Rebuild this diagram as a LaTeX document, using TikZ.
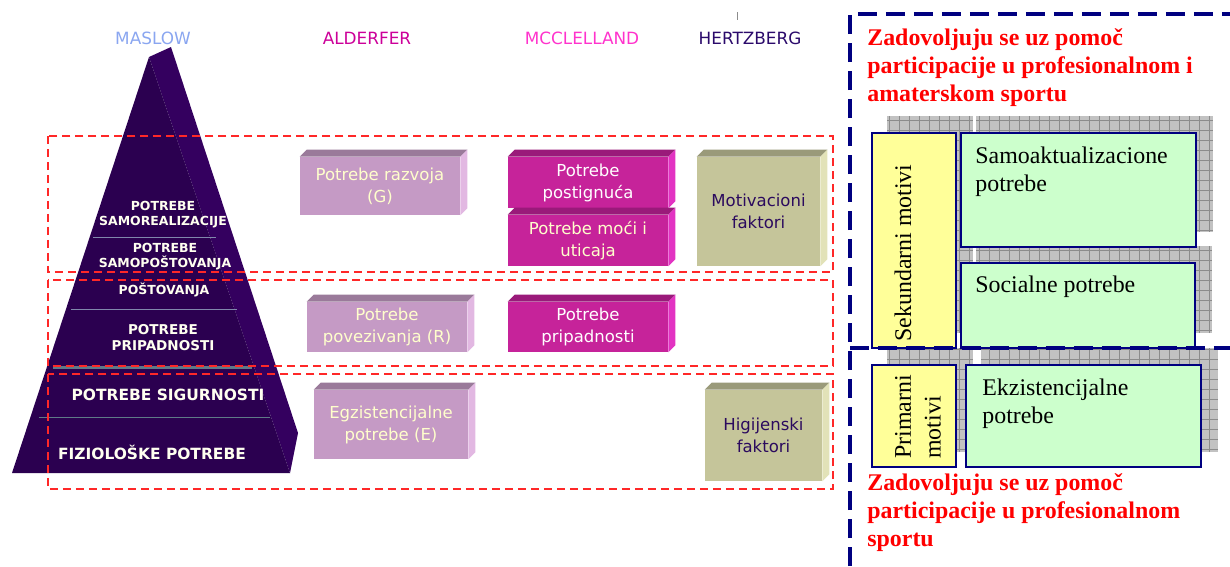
\documentclass[tikz,border=0pt]{standalone}
\usepackage{fontspec}
\setmainfont{Liberation Serif}
\newfontfamily\tahoma{DejaVu Sans}
\usetikzlibrary{backgrounds}

\definecolor{pyrfront}{HTML}{2B0050}
\definecolor{pyrside}{HTML}{34005F}
\definecolor{pyrtext}{HTML}{FFFFF0}
\definecolor{pyrgrey}{HTML}{8088AC}
\definecolor{pyrteal}{HTML}{5F7A88}
\definecolor{aldfront}{HTML}{C59AC5}
\definecolor{aldtop}{HTML}{9A7A9A}
\definecolor{aldside}{HTML}{E2B8E2}
\definecolor{aldtxt}{HTML}{FFFFCC}
\definecolor{mccfront}{HTML}{C6239A}
\definecolor{mcctop}{HTML}{9A1A7A}
\definecolor{mccside}{HTML}{E233C2}
\definecolor{herzfront}{HTML}{C5C59A}
\definecolor{herztop}{HTML}{9A9A7A}
\definecolor{herzside}{HTML}{E2E2B8}
\definecolor{herztxt}{HTML}{2B0A5E}
\definecolor{maslowc}{HTML}{8AA6F0}
\definecolor{alderc}{HTML}{CC0099}
\definecolor{mccc}{HTML}{FF33CC}
\definecolor{herzc}{HTML}{2B0A6B}
\definecolor{redf}{HTML}{FF2828}
\definecolor{navyb}{HTML}{000080}
\definecolor{yellowb}{HTML}{FFFF99}
\definecolor{greenb}{HTML}{CCFFCC}

\tikzset{
  head/.style={font=\tahoma\fontsize{9.6}{11}\selectfont},
  pyrlabel/.style={font=\tahoma\bfseries\fontsize{7.1}{8.6}\selectfont, text=pyrtext, align=center, inner sep=0},
  pyrlabelbig/.style={font=\tahoma\bfseries\fontsize{8.8}{10}\selectfont, text=pyrtext, inner sep=0},
  pyrline/.style={draw=pyrgrey, line width=0.02cm},
  redframe/.style={draw=redf, line width=0.04cm, dash pattern=on 0.16cm off 0.1cm},
  brick/.style={inner sep=0, align=center, font=\tahoma\fontsize{9.4}{12.5}\selectfont},
  alder/.style={brick, fill=aldfront, text=aldtxt},
  mcc/.style={brick, fill=mccfront, text=white},
  herz/.style={brick, fill=herzfront, text=herztxt},
  motive/.style={draw=navyb, line width=0.04cm, fill=yellowb},
  need/.style={draw=navyb, line width=0.04cm, fill=greenb},
  serif/.style={font=\fontsize{13.6}{15.4}\selectfont, inner sep=0, align=left},
  rednote/.style={font=\bfseries\fontsize{13.6}{15.9}\selectfont, text=red, inner sep=0, align=left},
  bluedash/.style={draw=navyb, line width=0.08cm, dash pattern=on 0.38cm off 0.18cm},
  shadowgrid/.style={draw=black!45, line width=0.5pt, step=0.2cm},
}

% top and side faces of a brick
\newcommand\brickfaces[3]{%
  \fill[#2] (#1.north west) -- ++(7,-7) -- ([shift={(7,-7)}]#1.north east) -- (#1.north east) -- cycle;
  \fill[#3] (#1.north east) -- ([shift={(7,-7)}]#1.north east) -- ([shift={(7,-7)}]#1.south east) -- (#1.south east) -- cycle;
}

\begin{document}
\begin{tikzpicture}[x=0.02cm,y=-0.02cm]
  \useasboundingbox (0,0) rectangle (1230,566);

  % column heads
  \node[head, text=maslowc] (maslow) at (153,38) {MASLOW};
  \node[head, text=alderc] (alderfer) at (367,38) {ALDERFER};
  \node[head, text=mccc] (mcclelland) at (582,38) {MCCLELLAND};
  \node[head, text=herzc] (hertzberg) at (750,38) {HERTZBERG};
  \draw[black!45] (737,12) -- (737,20);

  % pyramid
  \fill[pyrside] (149,57) -- (171,47) -- (298,433) -- (290,473) -- cycle;
  \fill[pyrfront] (149,57) -- (290,473) -- (12,473) -- cycle;
  \draw[pyrline] (93,237) -- (216,237);
  \draw[pyrline] (71,309) -- (237,309);
  \draw[pyrline, draw=pyrteal, line width=0.06cm] (53,367) -- (252,367);
  \draw[pyrline, draw=pyrteal] (39,417) -- (270,417);
  \node[pyrlabel] (samoreal) at (163,214.5) {POTREBE\\SAMOREALIZACIJE};
  \node[pyrlabel] (samopost) at (165,257) {POTREBE\\SAMOPOŠTOVANJA};
  \node[pyrlabel] (postov) at (164,290) {POŠTOVANJA};
  \node[pyrlabel, font=\tahoma\bfseries\fontsize{7.7}{9.6}\selectfont] (pripadn) at (163,337.5) {POTREBE\\PRIPADNOSTI};
  \node[pyrlabelbig] (sigurn) at (168,395) {POTREBE SIGURNOSTI};
  \node[pyrlabelbig] (fiziol) at (152,452) {FIZIOLOŠKE POTREBE};

  % red frames
  \draw[redframe] (48,136) rectangle (833,272);
  \draw[redframe] (48,280) rectangle (833,366);
  \draw[redframe] (48,374) rectangle (833,489);

  % bricks
  \node[alder, minimum width=3.2cm, minimum height=1.16cm] (razvoj) at (380,186) {Potrebe razvoja\\(G)};
  \node[alder, minimum width=3.2cm, minimum height=1cm] (povez) at (387,327) {Potrebe\\povezivanja (R)};
  \node[alder, minimum width=3.08cm, minimum height=1.38cm] (egzist) at (391,424.5) {Egzistencijalne\\potrebe (E)};
  \node[mcc, minimum width=3.2cm, minimum height=1.02cm] (postig) at (588,182.5) {Potrebe\\postignuća};
  \node[mcc, text=aldtxt, minimum width=3.2cm, minimum height=1.02cm] (moc) at (588,240.5) {Potrebe moći i\\uticaja};
  \node[mcc, minimum width=3.2cm, minimum height=1cm] (pripad) at (588,327) {Potrebe\\pripadnosti};
  \node[herz, minimum width=2.46cm, minimum height=2.18cm] (motiv) at (758.5,211.5) {Motivacioni\\faktori};
  \node[herz, minimum width=2.34cm, minimum height=1.82cm] (higij) at (763.5,435.5) {Higijenski\\faktori};
  \brickfaces{razvoj}{aldtop}{aldside}
  \brickfaces{povez}{aldtop}{aldside}
  \brickfaces{egzist}{aldtop}{aldside}
  \brickfaces{postig}{mcctop}{mccside}
  \brickfaces{moc}{mcctop}{mccside}
  \brickfaces{pripad}{mcctop}{mccside}
  \brickfaces{motiv}{herztop}{herzside}
  \brickfaces{higij}{herztop}{herzside}

  % motives and needs
  \node[motive, minimum width=1.68cm, minimum height=4.3cm] (sek) at (914,240.5) {};
  \node[need, minimum width=4.7cm, minimum height=2.28cm] (samo) at (1078.5,190) {};
  \node[need, minimum width=4.68cm, minimum height=1.7cm] (soc) at (1078,305.5) {};
  \node[motive, minimum width=1.68cm, minimum height=2.04cm] (prim) at (914,416) {};
  \node[need, minimum width=4.7cm, minimum height=2.04cm] (ekz) at (1083.5,416) {};
  \begin{scope}[on background layer]
    \foreach \b in {sek,samo,soc,prim,ekz}{
      \fill[black!24] ([shift={(16,-16)}]\b.south west) rectangle ([shift={(16,-16)}]\b.north east);
      \draw[shadowgrid] ([shift={(16,-16)}]\b.south west) grid ([shift={(16,-16)}]\b.north east);
    }
  \end{scope}
  \node[serif, anchor=north west] (samotxt) at ([xshift=0.3cm,yshift=-0.3cm]samo.north west) {Samoaktualizacione\\potrebe};
  \node[serif, anchor=north west] (soctxt) at ([xshift=0.3cm,yshift=-0.28cm]soc.north west) {Socialne potrebe};
  \node[serif, anchor=north west] (ekztxt) at ([xshift=0.34cm,yshift=-0.3cm]ekz.north west) {Ekzistencijalne\\potrebe};
  \node[serif, rotate=90, anchor=west] (sektxt) at ([xshift=-0.22cm,yshift=0.14cm]sek.south) {Sekundarni motivi};
  \node[serif, rotate=90, anchor=west, font=\fontsize{13.6}{17}\selectfont] (primtxt) at ([xshift=0.08cm,yshift=0.18cm]prim.south) {Primarni\\motivi};

  \node[rednote, anchor=west] (topnote) at (867,67.5) {Zadovoljuju se uz pomoč\\participacije u profesionalnom i\\amaterskom sportu};
  \node[rednote, anchor=west] (botnote) at (867,512.5) {Zadovoljuju se uz pomoč\\participacije u profesionalnom\\sportu};

  % blue dashed borders
  \draw[bluedash] (850,566) -- (850,14) -- (1230,14);
  \draw[bluedash] (850,348) -- (1230,348);
\end{tikzpicture}
\end{document}
